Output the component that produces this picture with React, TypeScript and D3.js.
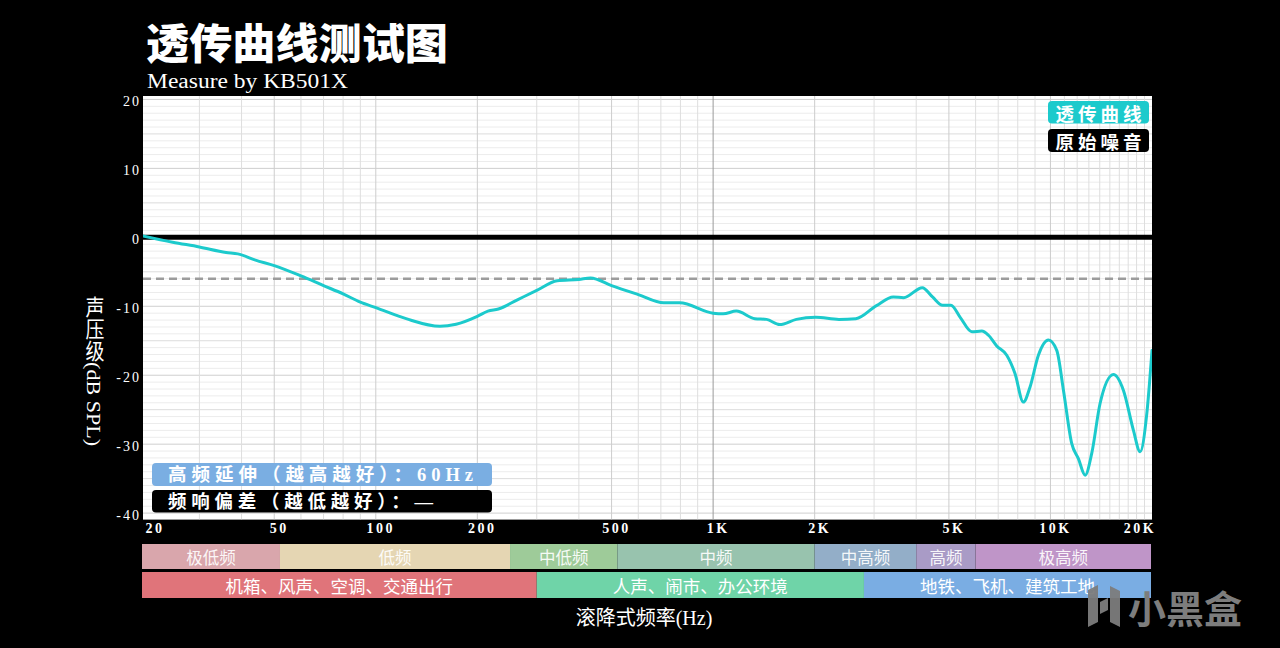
import React from "react";
import * as d3 from "d3";

// ---------- data ----------
const freqs = [
  20, 25, 30, 36, 39, 44, 50, 60, 70, 80, 90, 100, 123, 155, 173, 200, 215, 231, 262, 300,
  345, 400, 433, 500, 600, 714, 795, 1000, 1071, 1172, 1330, 1440, 1575, 1765, 2015, 2360,
  2650, 3050, 3420, 3670, 4170, 4470, 4790, 5070, 5400, 5850, 6260, 6550, 6930, 7420, 7850,
  8310, 8700, 9210, 9860, 10440, 10930, 11560, 12100, 12670, 13260, 14030, 15370, 16460,
  17620, 18440, 19300, 20000,
];
const transparencyDb = [
  0.3, -0.7, -1.4, -2.2, -2.4, -3.3, -4.1, -5.6, -7.0, -8.2, -9.4, -10.2, -11.8, -12.9, -12.6,
  -11.45, -10.7, -10.4, -9.1, -7.7, -6.3, -6.1, -5.9, -7.0, -8.3, -9.5, -9.5, -11.0, -11.1,
  -10.7, -11.8, -11.9, -12.65, -11.9, -11.6, -11.9, -11.8, -9.9, -8.65, -8.75, -7.3, -8.65,
  -9.85, -9.85, -11.6, -13.7, -13.6, -14.2, -15.75, -17.1, -19.75, -23.9, -21.7, -17.1, -14.9,
  -16.4, -22.2, -29.9, -32.1, -34.5, -31.3, -24.1, -19.9, -22.2, -28.0, -31.1, -25.6, -16.4,
];
const noiseDb = 0;
const referenceDb = -6;

const xTickValues = [20, 50, 100, 200, 500, 1000, 2000, 5000, 10000, 20000];
const xTickLabels = ["20", "50", "100", "200", "500", "1K", "2K", "5K", "10K", "20K"];
const yTickValues = [20, 10, 0, -10, -20, -30, -40];

const bandEdges = [20, 52, 250, 520, 2000, 4000, 6000, 20000];
const bandNames = ["极低频", "低频", "中低频", "中频", "中高频", "高频", "极高频"];
const sceneEdges = [20, 300, 2800, 20000];
const sceneNames = ["机箱、风声、空调、交通出行", "人声、闹市、办公环境", "地铁、飞机、建筑工地"];

const legendNames = ["透传曲线", "原始噪音"];
const statLabels = ["高频延伸（越高越好）：60Hz", "频响偏差（越低越好）：—"];

// ---------- styles ----------
const bandColors = ["#d9a6ac", "#e5d6b3", "#9ecb99", "#98c3ae", "#93aec8", "#a99bc6", "#bf95c8"];
const sceneColors = ["#e0747a", "#6fd4a8", "#7aade3"];
const CYAN = "#1ccacc";
const SERIF = "'Liberation Serif','DejaVu Serif','Noto Sans CJK SC',serif";
const CJK = "'Noto Sans CJK SC','Liberation Serif',sans-serif";

const W = 1280;
const H = 648;
const PL = 143, PR = 1152, PT = 96, PB = 519.5;

export default function App() {
  const x = d3.scaleLog().domain([20, 20000]).range([140, 1152]);
  const y = d3.scaleLinear().domain([-41, 20.5]).range([520, 96]);

  // grid frequencies
  const gridF: number[] = [];
  for (let f = 30; f < 100; f += 10) gridF.push(f);
  for (let f = 100; f < 1000; f += 100) gridF.push(f);
  for (let f = 1000; f < 20000; f += 1000) gridF.push(f);
  const gridDb: number[] = d3.range(-41, 21, 1);

  const pts = freqs.map((f, i) => [f, transparencyDb[i]] as [number, number]);
  const line = d3
    .line<[number, number]>()
    .x((d) => x(d[0]))
    .y((d) => y(d[1]))
    .curve(d3.curveMonotoneX);

  const clampX = (v: number) => Math.max(142, Math.min(1151, v));

  return (
    <svg
      width={W}
      height={H}
      style={{ position: "fixed", left: 0, top: 0, display: "block", background: "#000" }}
    >
      <defs>
        <clipPath id="plotclip">
          <rect x={PL} y={PT} width={PR - PL} height={PB - PT} />
        </clipPath>
      </defs>
      <rect x={0} y={0} width={W} height={H} fill="#000" />

      {/* Title */}
      <text x={146} y={59} fill="#fff" fontFamily={CJK} fontWeight={900} fontSize={42}
        textLength={302} lengthAdjust="spacingAndGlyphs">
        透传曲线测试图
      </text>
      <text x={147} y={88} fill="#fff" fontFamily={SERIF} fontSize={20}
        textLength={201} lengthAdjust="spacingAndGlyphs">
        Measure by KB501X
      </text>

      {/* Plot background */}
      <rect x={PL} y={PT} width={PR - PL} height={PB - PT} fill="#fff" />

      <g clipPath="url(#plotclip)">
        {gridDb.map((v) => (
          <line key={"h" + v} x1={PL} x2={PR} y1={y(v)} y2={y(v)}
            stroke={v % 10 === 0 ? "#cfcfcf" : v % 5 === 0 ? "#dcdcdc" : "#ececec"}
            strokeWidth={1} />
        ))}
        {gridF.map((f) => (
          <line key={"v" + f} x1={x(f)} x2={x(f)} y1={PT} y2={PB}
            stroke={f === 1000 ? "#9a9a9a" : xTickValues.includes(f) ? "#cdcdcd" : "#dedede"}
            strokeWidth={1} />
        ))}
        <line x1={PL} x2={PR} y1={y(referenceDb)} y2={y(referenceDb)}
          stroke="#9c9c9c" strokeWidth={2.5} strokeDasharray="8 5" />
        <line x1={PL} x2={PR} y1={y(noiseDb)} y2={y(noiseDb)} stroke="#000" strokeWidth={5} />
        <path d={line(pts) || ""} fill="none" stroke={CYAN} strokeWidth={3}
          strokeLinejoin="round" strokeLinecap="round" />
      </g>

      {/* Y tick labels */}
      {yTickValues.map((v) => (
        <text key={"yl" + v} x={141} y={y(v) + 2} fill="#fff" fontFamily={SERIF}
          fontSize={14} letterSpacing={2} textAnchor="end" dominantBaseline="central">
          {String(v)}
        </text>
      ))}

      {/* X tick labels */}
      {xTickValues.map((f, i) => (
        <text key={"xl" + f} x={Math.max(155, Math.min(1140, x(f) + 5))} y={533}
          fill="#fff" fontFamily={SERIF} fontWeight={700} fontSize={14} letterSpacing={2.5}
          textAnchor="middle">
          {xTickLabels[i]}
        </text>
      ))}

      {/* Y axis title (vertical) */}
      <text x={93} y={296} fill="#fff" fontFamily={SERIF} fontSize={19}
        style={{ writingMode: "vertical-rl" as any }} textLength={150}
        lengthAdjust="spacingAndGlyphs">
        声压级(dB SPL)
      </text>

      {/* Legend */}
      <rect x={1048} y={101} width={101} height={22.5} rx={4} fill={CYAN} />
      <text x={1098.5} y={112.5} fill="#fff" fontFamily={CJK} fontWeight={700} fontSize={18.5}
        textAnchor="middle" dominantBaseline="central" textLength={86} lengthAdjust="spacing">
        {legendNames[0]}
      </text>
      <rect x={1048} y={129} width={101} height={23} rx={4} fill="#000" />
      <text x={1098.5} y={141} fill="#fff" fontFamily={CJK} fontWeight={700} fontSize={18.5}
        textAnchor="middle" dominantBaseline="central" textLength={86} lengthAdjust="spacing">
        {legendNames[1]}
      </text>

      {/* Stat boxes */}
      <rect x={152} y={463} width={340} height={23} rx={4} fill="#7aaee2" />
      <text x={168} y={475} fill="#fff" fontFamily={SERIF} fontWeight={700} fontSize={18.5}
        dominantBaseline="central" textLength={305} lengthAdjust="spacing">
        {statLabels[0]}
      </text>
      <rect x={152} y={490} width={340} height={22.5} rx={4} fill="#000" />
      <text x={168} y={501.5} fill="#fff" fontFamily={SERIF} fontWeight={700} fontSize={18.5}
        dominantBaseline="central" textLength={265} lengthAdjust="spacing">
        {statLabels[1]}
      </text>

      {/* Frequency bands */}
      {bandNames.map((name, i) => {
        const x0 = clampX(x(bandEdges[i]));
        const x1 = clampX(x(bandEdges[i + 1]));
        return (
          <g key={"b" + i}>
            <rect x={x0} y={544} width={x1 - x0} height={25} fill={bandColors[i]} />
            <text x={(x0 + x1) / 2} y={556.5} fill="#fff" fillOpacity={0.92} fontFamily={CJK}
              fontSize={16.5} textAnchor="middle" dominantBaseline="central">
              {name}
            </text>
          </g>
        );
      })}
      {sceneNames.map((name, i) => {
        const x0 = clampX(x(sceneEdges[i]));
        const x1 = clampX(x(sceneEdges[i + 1]));
        return (
          <g key={"s" + i}>
            <rect x={x0} y={572} width={x1 - x0} height={26} fill={sceneColors[i]} />
            <text x={(x0 + x1) / 2} y={585} fill="#fff" fontFamily={CJK} fontSize={17.5}
              textAnchor="middle" dominantBaseline="central">
              {name}
            </text>
          </g>
        );
      })}

      {/* X axis title */}
      <text x={644} y={618} fill="#fff" fontFamily={SERIF} fontSize={20} textAnchor="middle"
        dominantBaseline="central">
        滚降式频率(Hz)
      </text>

      {/* Watermark */}
      <g fill="#7d7d7d" opacity={0.95}>
        <path d="M1088 590 L1098 585 L1098 622 L1088 627 Z" />
        <path d="M1100 602 L1108 598 L1108 610 L1100 614 Z" />
        <path d="M1110 586 L1120 591 L1120 627 L1110 622 Z" />
      </g>
      <text x={1128} y={606} fill="#7d7d7d" fontFamily={CJK} fontWeight={700} fontSize={38}
        dominantBaseline="central">
        小黑盒
      </text>
    </svg>
  );
}
